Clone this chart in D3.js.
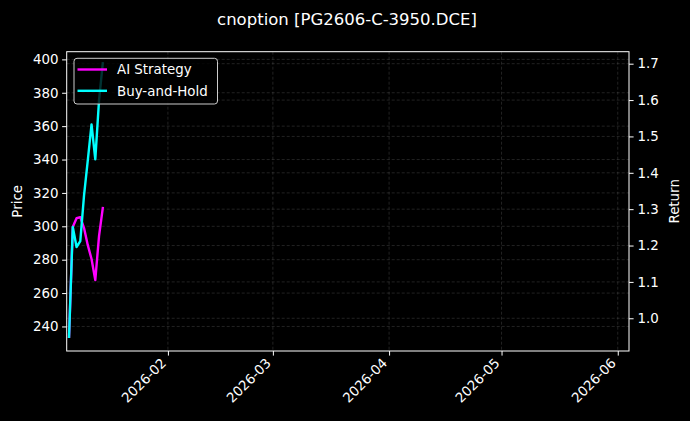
<!DOCTYPE html>
<html><head><meta charset="utf-8">
<script src="https://cdn.jsdelivr.net/npm/d3@7"></script>
<style>
html,body{margin:0;padding:0;background:#000;}
svg{display:block;font-family:"DejaVu Sans",sans-serif;}
</style></head>
<body>
<svg id="chart" width="690" height="421"></svg>
<script>
const title = "cnoption [PG2606-C-3950.DCE]";
const dates = ["2026-01-05T15:00","2026-01-06T15:00","2026-01-07T15:00","2026-01-08T15:00","2026-01-09T15:00",
               "2026-01-10T15:00","2026-01-11T15:00","2026-01-12T15:00","2026-01-13T15:00","2026-01-14T15:00"];
const aiStrategy = [0.949, 1.251, 1.275, 1.278, 1.248, 1.201, 1.163, 1.105, 1.226, 1.303];
const buyAndHold = [0.949, 1.251, 1.196, 1.212, 1.338, 1.434, 1.533, 1.437, 1.599, 1.701];
const xDomain = ["2026-01-05T00:00","2026-06-04T00:00"];
const priceDomain = [225.3, 404.6];
const returnDomain = [0.910, 1.733];
const priceTicks = [240,260,280,300,320,340,360,380,400];
const returnTicks = [1.0,1.1,1.2,1.3,1.4,1.5,1.6,1.7];
const monthTicks = ["2026-02-01","2026-03-01","2026-04-01","2026-05-01","2026-06-01"];
const seriesNames = ["AI Strategy","Buy-and-Hold"];
const seriesColors = ["#ff00ff","#00ffff"];

const parse = d3.isoParse;
const svg = d3.select("#chart");
const m = {l:66.7, r:629, t:51.7, b:351};
const x = d3.scaleTime().domain(xDomain.map(parse)).range([m.l, m.r]);
const yL = d3.scaleLinear().domain(priceDomain).range([m.b, m.t]);
const yR = d3.scaleLinear().domain(returnDomain).range([m.b, m.t]);
const fs = 13.4;

svg.append("rect").attr("width",690).attr("height",421).attr("fill","#000");

// grids
const grid = svg.append("g").attr("stroke","#8a8a8a").attr("stroke-opacity",0.42)
  .attr("stroke-width",0.6).attr("stroke-dasharray","3,2").attr("fill","none");
monthTicks.map(parse).forEach(d=>grid.append("line").attr("x1",x(d)).attr("x2",x(d)).attr("y1",m.t).attr("y2",m.b));
priceTicks.forEach(v=>grid.append("line").attr("x1",m.l).attr("x2",m.r).attr("y1",yL(v)).attr("y2",yL(v)));
returnTicks.forEach(v=>grid.append("line").attr("x1",m.l).attr("x2",m.r).attr("y1",yR(v)).attr("y2",yR(v)));

// lines
const series = [aiStrategy, buyAndHold];
series.forEach((vals,i)=>{
  const line = d3.line().x((d,j)=>x(parse(dates[j]))).y(d=>yR(d));
  svg.append("path").datum(vals).attr("d",line).attr("fill","none")
    .attr("stroke",seriesColors[i]).attr("stroke-width",2.4).attr("stroke-linejoin","round").attr("stroke-linecap","square");
});

// axes
function styleAxis(g){
  g.select(".domain").remove();
  g.selectAll(".tick line").attr("stroke","#fff").attr("stroke-width",1);
  g.selectAll(".tick text").attr("fill","#fff").attr("font-size",fs).attr("font-family","DejaVu Sans");
}
const gL = svg.append("g").attr("transform",`translate(${m.l},0)`)
  .call(d3.axisLeft(yL).tickValues(priceTicks).tickSize(4.6).tickPadding(3.6).tickFormat(d3.format("d")));
styleAxis(gL);
const gR = svg.append("g").attr("transform",`translate(${m.r},0)`)
  .call(d3.axisRight(yR).tickValues(returnTicks).tickSize(4.6).tickPadding(4).tickFormat(d3.format(".1f")));
styleAxis(gR);
const gX = svg.append("g").attr("transform",`translate(0,${m.b})`)
  .call(d3.axisBottom(x).tickValues(monthTicks.map(parse)).tickSize(4.6).tickFormat(d3.timeFormat("%Y-%m")));
styleAxis(gX);
gX.selectAll(".tick text").attr("text-anchor","end").attr("dy",null).attr("y",null)
  .attr("transform","translate(-1.5,13) rotate(-45)");

// frame
svg.append("rect").attr("x",m.l).attr("y",m.t).attr("width",m.r-m.l).attr("height",m.b-m.t)
  .attr("fill","none").attr("stroke","#fff").attr("stroke-width",1);

// labels
svg.append("text").attr("x",347).attr("y",24.5).attr("text-anchor","middle").attr("fill","#fff")
  .attr("font-size",16.5).text(title);
svg.append("text").attr("transform",`translate(22,${(m.t+m.b)/2}) rotate(-90)`).attr("text-anchor","middle")
  .attr("fill","#fff").attr("font-size",fs).text("Price");
svg.append("text").attr("transform",`translate(678.5,${(m.t+m.b)/2}) rotate(-90)`).attr("text-anchor","middle")
  .attr("fill","#fff").attr("font-size",fs).text("Return");

// legend
const lg = svg.append("g");
lg.append("rect").attr("x",74).attr("y",58.3).attr("width",143.5).attr("height",45.7).attr("rx",3)
  .attr("fill","#000").attr("fill-opacity",0.8).attr("stroke","#cccccc").attr("stroke-width",1);
seriesNames.forEach((n,i)=>{
  const yy = 69.5 + i*21.3;
  lg.append("line").attr("x1",77.5).attr("x2",107).attr("y1",yy).attr("y2",yy)
    .attr("stroke",seriesColors[i]).attr("stroke-width",2.4);
  lg.append("text").attr("x",117).attr("y",yy).attr("dy","0.36em").attr("fill","#fff")
    .attr("font-size",fs).text(n);
});
</script>
</body></html>
